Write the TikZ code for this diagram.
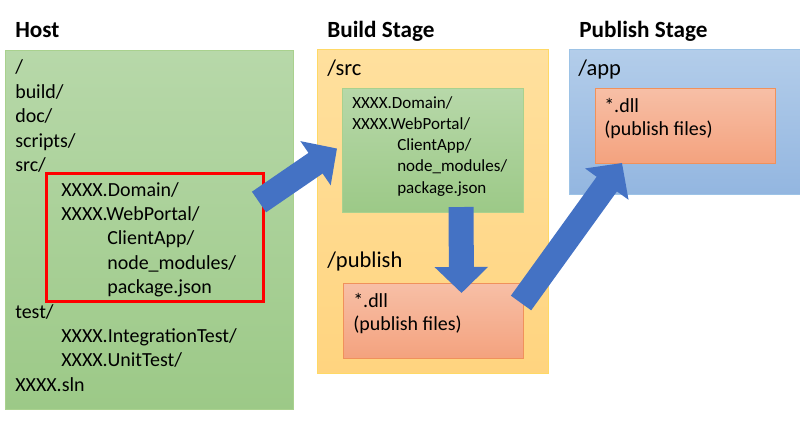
\documentclass[tikz,border=0pt]{standalone}
\usepackage{fontspec}
\setmainfont{Carlito}
\usetikzlibrary{positioning,arrows.meta,calc}
\definecolor{greentop}{HTML}{B7D8A9}
\definecolor{greenbot}{HTML}{9CC987}
\definecolor{greenline}{HTML}{A9D18E}
\definecolor{yellowtop}{HTML}{FFE09E}
\definecolor{yellowbot}{HTML}{FFD47F}
\definecolor{yellowline}{HTML}{FFD966}
\definecolor{bluetop}{HTML}{B3CDEA}
\definecolor{bluebot}{HTML}{93B6E0}
\definecolor{blueline}{HTML}{9DC3E6}
\definecolor{salmontop}{HTML}{F7BFA6}
\definecolor{salmonbot}{HTML}{F4A27E}
\definecolor{salmonline}{HTML}{F0915B}
\definecolor{flecha}{HTML}{4472C4}
\definecolor{marco}{HTML}{FF0000}

\begin{document}
\begin{tikzpicture}[x=0.025cm, y=-0.025cm,
    box/.style={anchor=north west, inner sep=0pt, line width=0.7pt,
      draw=#1line, top color=#1top, bottom color=#1bot},
    frame/.style={anchor=north west, inner sep=0pt, draw=marco, line width=2.1pt},
    txt/.style={anchor=base west, inner sep=0pt, font=\fontsize{#1}{#1}\selectfont},
    titletxt/.style={anchor=base west, inner sep=0pt, font=\fontsize{16.5}{19}\selectfont\bfseries},
    blockarrow/.style={draw=flecha, line width=0.625cm,
      -{Triangle[length=0.65cm, width=1.3cm]}}]
  \useasboundingbox (0,0) rectangle (800,420);

  % stages
  \node[box=green, minimum width=7.2cm, minimum height=8.975cm] (host) at (5,50) {};
  \node[box=yellow, minimum width=5.775cm, minimum height=8.1cm] (build) at (317,49) {};
  \node[box=blue, minimum width=5.9cm, minimum height=3.625cm] (publish) at (569,49) {};
  \node[titletxt] (hosttitle) at (15,38) {Host};
  \node[titletxt] (buildtitle) at (327,38) {Build Stage};
  \node[titletxt] (publishtitle) at (579,38) {Publish Stage};

  % host tree
  \foreach \l/\t [count=\i] in {0/{/}, 0/{build/}, 0/{doc/}, 0/{scripts/}, 0/{src/},
      1/{XXXX.Domain/}, 1/{XXXX.WebPortal/}, 2/{ClientApp/}, 2/{node\_modules/},
      2/{package.json}, 0/{test/}, 1/{XXXX.IntegrationTest/}, 1/{XXXX.UnitTest/},
      0/{XXXX.sln}} {
    \node[txt=14.2] (h\i) at ({15+46*\l}, {74+24.4*(\i-1)}) {\t};
  }
  \node[frame, minimum width=5.425cm, minimum height=3.2cm] (srcframe) at (45,172) {};

  % build stage
  \node[txt=16] (srcdir) at (327,75) {/src};
  \node[box=green, minimum width=4.525cm, minimum height=3.1cm] (srcbox) at (342,88) {};
  \foreach \l/\t [count=\i] in {0/{XXXX.Domain/}, 0/{XXXX.WebPortal/}, 1/{ClientApp/},
      1/{node\_modules/}, 1/{package.json}} {
    \node[txt=12.1] (s\i) at ({352+45*\l}, {108+21.25*(\i-1)}) {\t};
  }
  \node[txt=16] (pubdir) at (327,267) {/publish};
  \node[box=salmon, minimum width=4.5cm, minimum height=1.875cm] (pubfiles) at (343,283) {};
  \node[txt=14.2] (pubdll) at (353,307) {*.dll};
  \node[txt=14.2] (pubnote) at (353,330) {(publish files)};

  % publish stage
  \node[txt=16] (appdir) at (578,75) {/app};
  \node[box=salmon, minimum width=4.5cm, minimum height=1.875cm] (appfiles) at (595,88) {};
  \node[txt=14.2] (appdll) at (604,112) {*.dll};
  \node[txt=14.2] (appnote) at (604,135) {(publish files)};

  \draw[blockarrow] ($(srcframe.north east)+(-6,30)$) -- ($(srcbox.west)+(-5,-2)$);
  \draw[blockarrow] ($(srcbox.south)+(28,-6)$) -- ($(pubfiles.north)+(28,10)$);
  \draw[blockarrow] ($(pubfiles.east)+(-3,-18)$) -- ($(appfiles.south west)+(27,-1)$);
\end{tikzpicture}
\end{document}
